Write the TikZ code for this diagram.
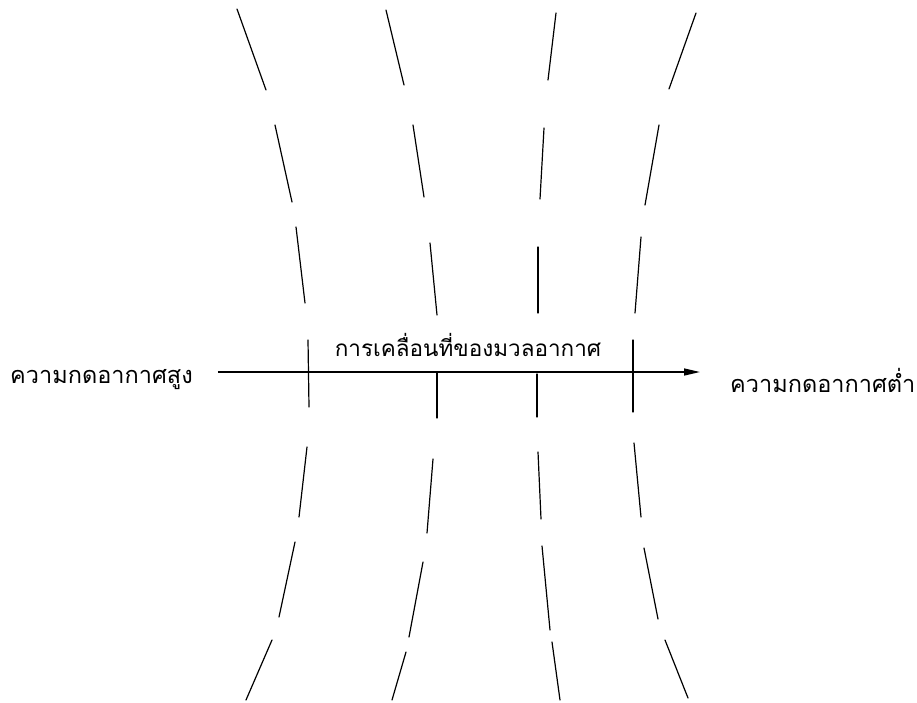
\documentclass[tikz,border=0pt]{standalone}
\usepackage{fontspec}
\newfontfamily\thaifont[Script=Thai]{Loma}
\usetikzlibrary{arrows.meta, positioning}

\begin{document}
\begin{tikzpicture}[
    x=1pt, y=-1pt,
    lbl/.style={font=\thaifont\fontsize{23.5}{28}\selectfont, inner sep=0pt},
    isobar/.style={line width=1.2pt, line cap=round},
    flow/.style={line width=1.5pt, -{Triangle[length=16pt,width=7pt]}}
  ]
  \useasboundingbox (0,0) rectangle (917,702);

  % Pressure labels
  \node[lbl, anchor=west] (high) at (10,380) {ความกดอากาศสูง};
  \node[lbl, anchor=west] (low) at (730,380) {ความกดอากาศต่ำ};
  \node[lbl, font=\thaifont\fontsize{22.5}{27}\selectfont] (motion) at (468,345)
    {การเคลื่อนที่ของมวลอากาศ};

  % Air motion
  \draw[flow] ([xshift=25pt,yshift=8pt]high.east) --
    ([xshift=-30pt,yshift=8pt]low.west);

  % Isobars, left to right
  \foreach \xa/\ya/\xb/\yb in {237/9/266/90, 275/125/292/202, 296/227/305/303,
      308/340/309/407, 307/447/299/517, 295/542/279/617, 272/640/246/700}
    \draw[isobar] (\xa,\ya) -- (\xb,\yb);
  \foreach \xa/\ya/\xb/\yb in {386/10/404/85, 413/125/424/197, 430/243/437/315,
      437/373/437/418, 433/459/427/533, 423/562/409/637, 406/652/392/700}
    \draw[isobar] (\xa,\ya) -- (\xb,\yb);
  \foreach \xa/\ya/\xb/\yb in {556/13/548/80, 544/128/540/199, 538/247/538/313,
      537/374/537/417, 538/452/541/519, 542/546/550/630, 552/642/560/700}
    \draw[isobar] (\xa,\ya) -- (\xb,\yb);
  \foreach \xa/\ya/\xb/\yb in {696/13/669/89, 659/125/645/205, 641/237/635/313,
      633/340/633/412, 634/443/641/517, 644/548/658/619, 665/640/688/698}
    \draw[isobar] (\xa,\ya) -- (\xb,\yb);

\end{tikzpicture}
\end{document}
